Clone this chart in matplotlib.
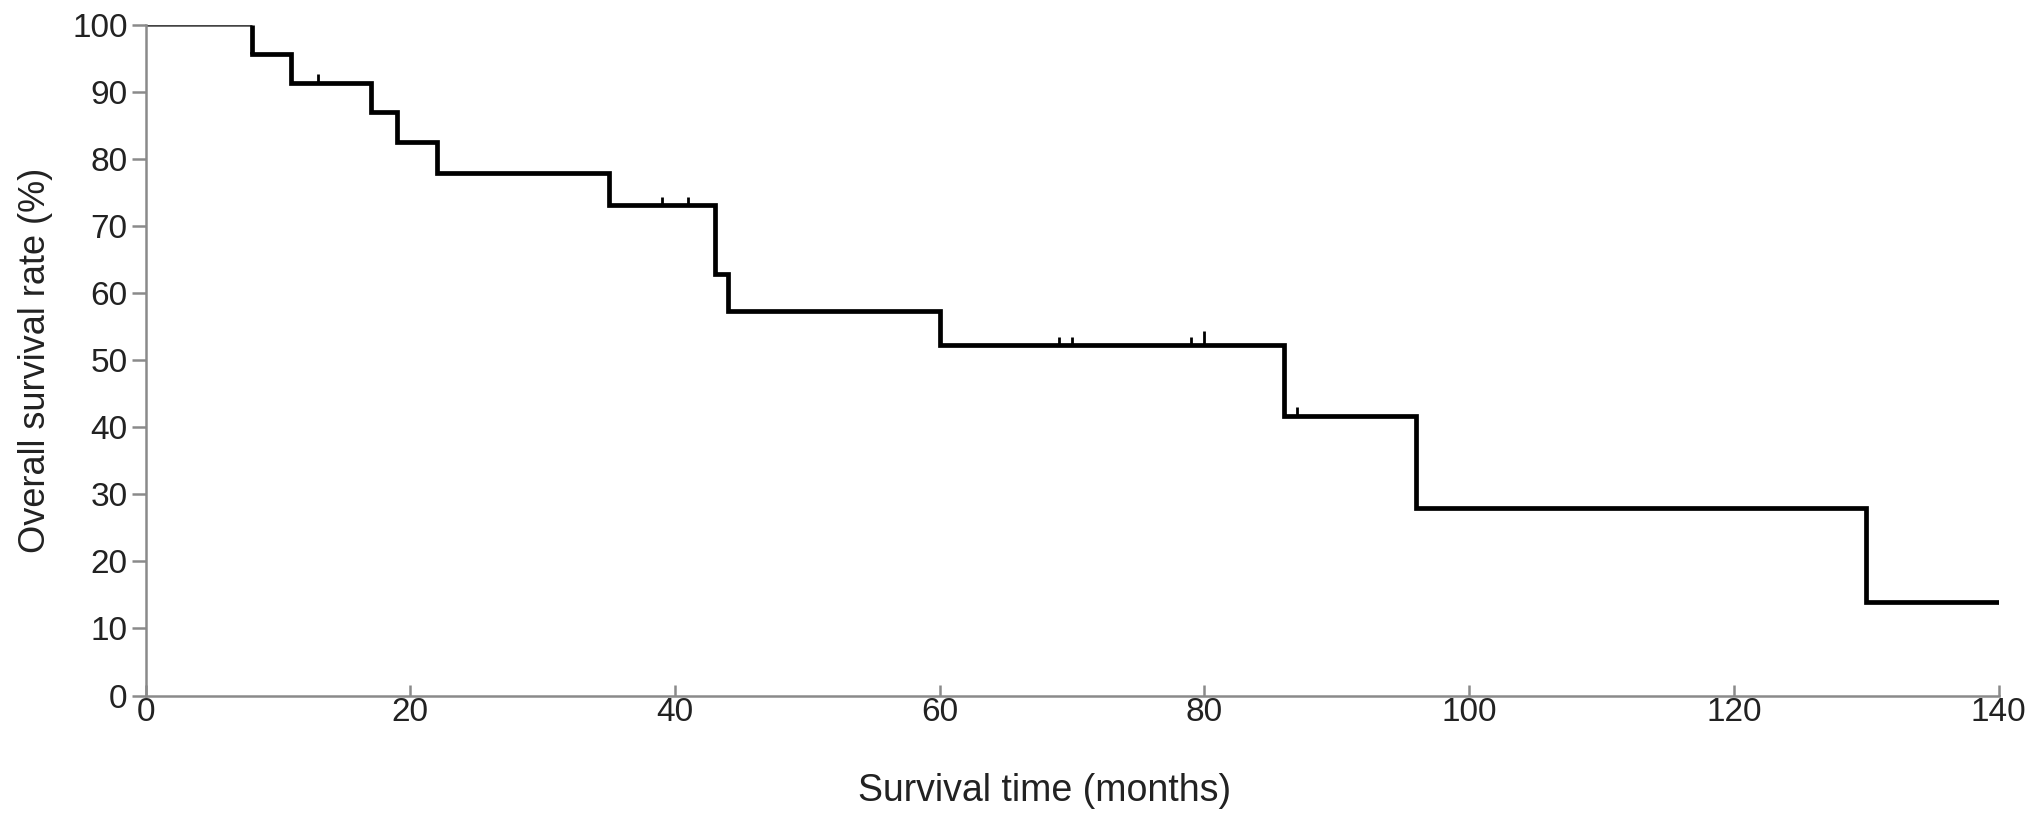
import numpy as np
import matplotlib.pyplot as plt

plt.rcParams['font.family'] = ['Liberation Sans', 'DejaVu Sans']

# Kaplan-Meier steps
event_times = [0, 8, 11, 17, 19, 22, 35, 43, 44, 60, 86, 96, 130, 140]
survival = [100, 95.7, 91.3, 87.0, 82.6, 77.9, 73.1, 62.8, 57.4, 52.2, 41.7, 27.9, 13.9, 13.9]

# censored observations
censor_times = [13, 39, 41, 69, 70, 79, 80, 87]
censor_heights = [1.3, 1.3, 1.3, 1.3, 1.3, 1.3, 2.2, 1.3]

fig = plt.figure(figsize=(20.31, 8.27), dpi=100)
ax = fig.add_axes([0.0717, 0.159, 0.9123, 0.811])

t = np.array(event_times)
s = np.array(survival)

# first flat part is drawn thinner in the original
ax.plot(t[:2], s[:1].repeat(2), color='#444444', lw=1.8, solid_capstyle='butt')
ax.step(t[1:], s[1:], where='post', color='black', lw=3.4,
        solid_joinstyle='miter')
ax.vlines(t[1], s[1], s[0], color='black', lw=3.4)

# censor ticks
for ct, h in zip(censor_times, censor_heights):
    idx = np.searchsorted(t, ct, side='right') - 1
    y = s[idx]
    ax.vlines(ct, y, y + h, color='black', lw=2.0)

ax.set_xlim(0, 140)
ax.set_ylim(0, 100)
ax.set_xticks(np.arange(0, 141, 20))
ax.set_yticks(np.arange(0, 101, 10))

for side in ['top', 'right']:
    ax.spines[side].set_visible(False)
for side in ['left', 'bottom']:
    ax.spines[side].set_color('#8a8a8a')
    ax.spines[side].set_linewidth(1.8)

ax.tick_params(axis='y', direction='out', length=10, width=1.8,
               color='#8a8a8a', labelsize=24, labelcolor='#222222', pad=3)
ax.tick_params(axis='x', direction='in', length=8, width=1.8,
               color='#8a8a8a', labelsize=24, labelcolor='#222222', pad=1)

ax.set_xlabel('Survival time (months)', fontsize=27, color='#222222', labelpad=30)
ax.xaxis.set_label_coords(0.485, -0.115)
ax.set_ylabel('Overall survival rate (%)', fontsize=26, color='#222222', labelpad=14)

fig.savefig('out.png', dpi=100)
